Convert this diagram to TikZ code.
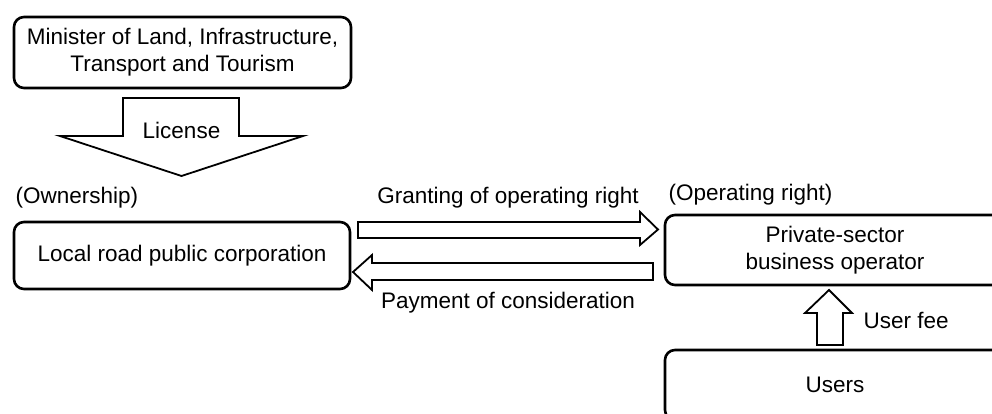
\documentclass[tikz,border=0pt]{standalone}
\usepackage{fontspec}
\setmainfont{Liberation Sans}
\usetikzlibrary{positioning}

\begin{document}
\begin{tikzpicture}[x=1pt, y=-1pt, font=\fontsize{22.5}{27}\selectfont,
    box/.style={draw, line width=2.6pt, rounded corners=10pt, align=center, inner sep=0pt},
    fatarrow/.style={draw, line width=1.8pt, fill=white, line join=miter}]
          \useasboundingbox (0,0) rectangle (992,414);
          \clip (0,0) rectangle (992,414);

          \node[box, minimum width=337pt, minimum height=71pt] (minister) at (182.5,52.5) {Minister of Land, Infrastructure,\\Transport and Tourism};
          \node[box, minimum width=336pt, minimum height=67pt] (corp) at (182,255.5) {Local road public corporation};
          \node[box, minimum width=340pt, minimum height=70pt] (private) at (835,250) {Private-sector\\business operator};
          \node[box, minimum width=340pt, minimum height=70pt] (users) at (835,385) {Users};

          \node[anchor=west] (own) at (12,198) {(Ownership)};
          \node[anchor=west] (oper) at (665,195) {(Operating right)};

          % block arrows
          \draw[fatarrow] (123,98) -- (239,98) -- (239,136) -- (303,136) -- (181.5,176) -- (60,136) -- (123,136) -- cycle;
          \node (license) at (181.5,130) {License};

          \draw[fatarrow] (358,222) -- (640,222) -- (640,212) -- (658,229.5) -- (640,245) -- (640,238) -- (358,238) -- cycle;
          \node (grant) at (508,198) {Granting of operating right};

          \draw[fatarrow] (653,263) -- (372,263) -- (372,255) -- (353,272) -- (372,290) -- (372,280) -- (653,280) -- cycle;
          \node (pay) at (508,303) {Payment of consideration};

          \draw[fatarrow] (817,345) -- (817,313) -- (805,313) -- (829,290) -- (852,313) -- (843,313) -- (843,345) -- cycle;
          \node[anchor=west] (fee) at (860,320) {User fee};
    \end{tikzpicture}
\end{document}
